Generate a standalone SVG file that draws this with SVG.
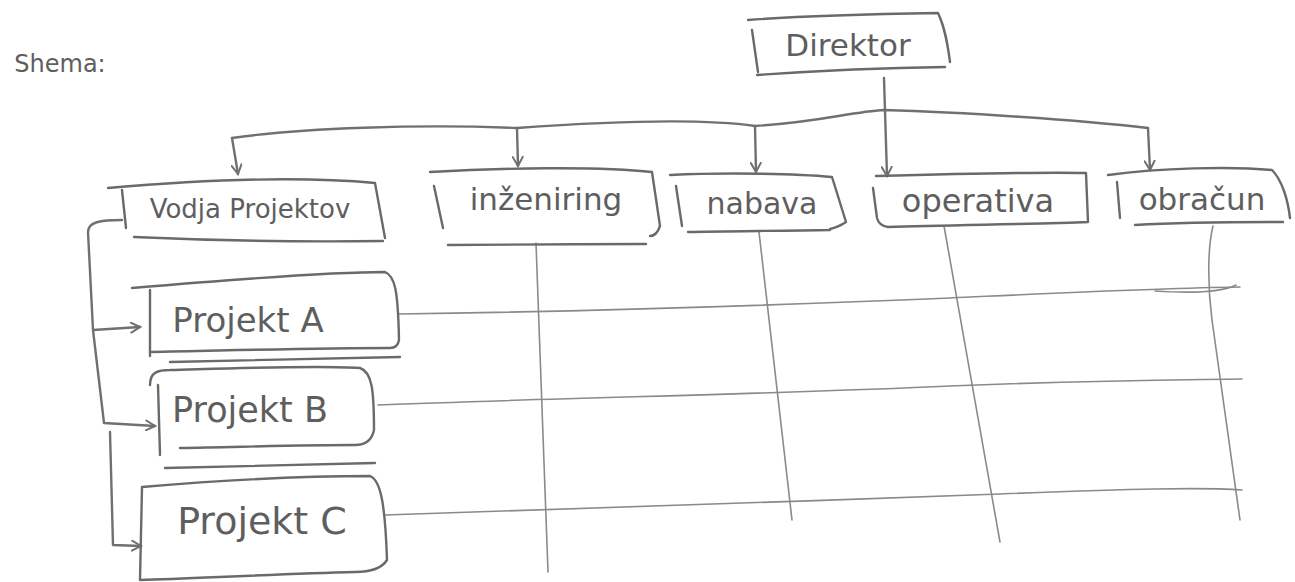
<svg xmlns="http://www.w3.org/2000/svg" width="1295" height="582" viewBox="0 0 1295 582">
<style>
.bg{fill:#ffffff}
.box{fill:none;stroke:#6a6a6a;stroke-width:2.4;stroke-linecap:round;stroke-linejoin:round}
.con{fill:none;stroke:#707070;stroke-width:2.4;stroke-linecap:round;stroke-linejoin:round}
.grid{fill:none;stroke:#8a8a8a;stroke-width:1.6;stroke-linecap:round}
.lbl{font-family:"DejaVu Sans","Liberation Sans",sans-serif;fill:#5e5e5e;text-anchor:middle}
</style>
<defs>
<marker id="arr" viewBox="0 0 12 12" refX="10" refY="6" markerWidth="12" markerHeight="12" markerUnits="userSpaceOnUse" orient="auto">
<path d="M1,1 L10,6 L1,11" fill="none" stroke="#707070" stroke-width="2" stroke-linecap="round"/>
</marker>
</defs>
<rect class="bg" width="1295" height="582"/>
<text class="lbl" x="60" y="72" font-size="24">Shema:</text>

<g id="connectors">
<path class="con" d="M884,78 L887,176" marker-end="url(#arr)"/>
<path class="con" d="M232,138 C300,128 420,124 517,128 C600,122 700,118 755,126 C820,122 850,112 884,110 C960,112 1080,120 1148,128"/>
<path class="con" d="M232,138 L238,174" marker-end="url(#arr)"/>
<path class="con" d="M517,128 L518,166" marker-end="url(#arr)"/>
<path class="con" d="M755,126 L756,172" marker-end="url(#arr)"/>
<path class="con" d="M1148,128 L1150,170" marker-end="url(#arr)"/>
<path class="con" d="M122,220 C100,220 88,222 88,232 L93,330 L140,327" marker-end="url(#arr)"/>
<path class="con" d="M93,330 L104,423 L155,426" marker-end="url(#arr)"/>
<path class="con" d="M110,432 L113,545 L141,546" marker-end="url(#arr)"/>
</g>

<g id="grid">
<path class="grid" d="M398,314 C550,312 760,306 950,298 C1080,292 1160,288 1240,287"/>
<path class="grid" d="M1155,291 C1185,293 1220,293 1236,285"/>
<path class="grid" d="M378,405 C550,398 780,394 950,386 C1100,380 1180,380 1242,379"/>
<path class="grid" d="M385,515 C550,509 790,502 1000,494 C1130,489 1200,487 1242,490"/>
<path class="grid" d="M536,243 L548,572"/>
<path class="grid" d="M759,232 L792,520"/>
<path class="grid" d="M944,226 L1000,542"/>
<path class="grid" d="M1213,226 C1207,250 1208,290 1212,320 L1240,520"/>
</g>

<g id="direktor">
<path class="box" d="M748,20 C800,16 880,14 938,13 C946,30 948,48 950,62 M945,67 C880,68 800,72 757,75 M752,30 L758,72"/>
<text class="lbl" x="848" y="56" font-size="31">Direktor</text>
</g>

<g id="vodja">
<path class="box" d="M108,188 C200,180 300,176 375,183 L385,238 M383,241 C300,242 200,240 134,237 M122,190 L126,228"/>
<text class="lbl" x="250" y="218" font-size="26">Vodja Projektov</text>
</g>

<g id="inzeniring">
<path class="box" d="M430,172 C500,168 600,166 652,172 L660,226 C658,232 655,236 650,236 M646,244 C580,244 500,245 448,245 M434,186 L443,228"/>
<text class="lbl" x="546" y="210" font-size="31">inženiring</text>
</g>

<g id="nabava">
<path class="box" d="M670,175 C730,172 800,174 832,177 L846,222 C840,226 835,228 830,229 M830,230 C780,231 720,231 688,232 M676,186 L682,226"/>
<text class="lbl" x="762" y="214" font-size="30">nabava</text>
</g>

<g id="operativa">
<path class="box" d="M876,176 C950,174 1030,172 1086,173 L1088,222 C1040,224 950,225 888,227 C880,226 878,222 877,218 L873,188"/>
<text class="lbl" x="978" y="212" font-size="32">operativa</text>
</g>

<g id="obracun">
<path class="box" d="M1108,175 C1160,168 1230,166 1272,170 C1282,180 1288,200 1290,218 M1283,222 C1230,222 1170,223 1135,225 M1117,182 L1120,218"/>
<text class="lbl" x="1202" y="210" font-size="31">obračun</text>
</g>

<g id="projektA">
<path class="box" d="M132,288 C250,278 330,272 385,272 C395,276 398,290 399,340 C398,346 395,348 390,348 C320,348 250,350 150,352 M150,290 L150,356 M170,362 C260,360 340,358 400,357"/>
<text class="lbl" x="248" y="332" font-size="34">Projekt A</text>
</g>

<g id="projektB">
<path class="box" d="M150,385 C150,372 158,370 170,370 C240,368 320,365 360,368 C372,372 374,390 374,430 C372,440 365,445 355,445 C300,445 240,447 180,448 M158,385 L160,455 M165,468 C250,466 320,464 375,463"/>
<text class="lbl" x="250" y="422" font-size="35">Projekt B</text>
</g>

<g id="projektC">
<path class="box" d="M142,487 C200,482 280,476 370,476 C380,480 385,500 387,560 C382,568 370,572 355,572 C280,574 200,578 140,580 M142,487 L140,580"/>
<text class="lbl" x="262" y="534" font-size="38">Projekt C</text>
</g>
</svg>
